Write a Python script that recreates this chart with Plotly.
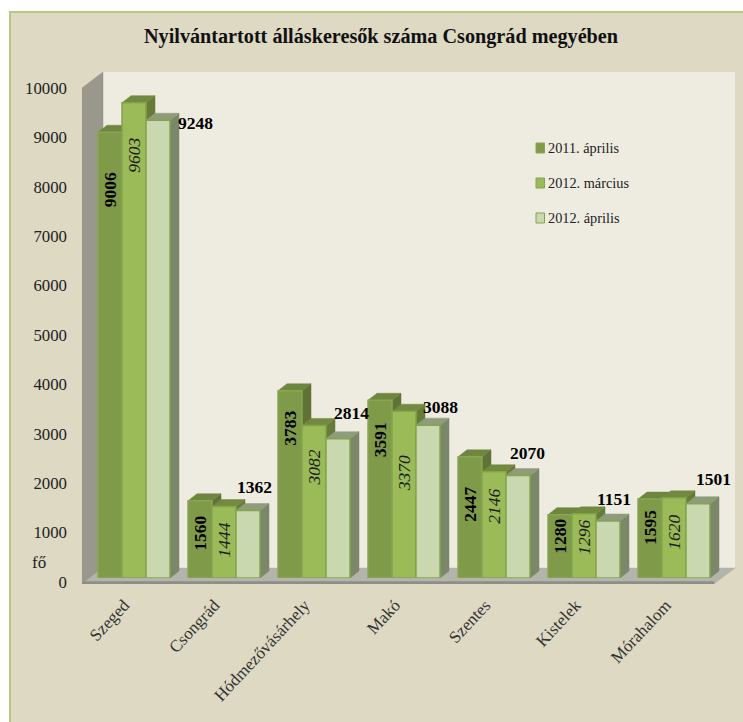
import plotly.graph_objects as go

CATEGORIES = ["Szeged", "Csongrád", "Hódmezővásárhely", "Makó", "Szentes", "Kistelek", "Mórahalom"]
SERIES_NAMES = ["2011. április", "2012. március", "2012. április"]
APR_2011 = [9006, 1560, 3783, 3591, 2447, 1280, 1595]
MAR_2012 = [9603, 1444, 3082, 3370, 2146, 1296, 1620]
APR_2012 = [9248, 1362, 2814, 3088, 2070, 1151, 1501]
Y_TICKS = list(range(0, 10001, 1000))
TITLE = "Nyilvántartott álláskeresők száma Csongrád megyében"

# styles and layout (pixels of the 743x722 page)
W, H = 743, 722
FONT = "Liberation Serif"
FRONT = ["#7F9A48", "#9BBB59", "#C9D8AE"]
EDGE = ["#8AA653", "#84A44C", "#84A44C"]
TOP = ["#6F863F", "#728A3F", "#8F9C7A"]
SIDE = ["#5F7336", "#657B37", "#7B8769"]
LAB1_DOWN = [58, 33, 38, 40, 48, 22, 29]
LAB2_DOWN = [53, 34, 42, 62, 35, 24, 35]
LAB3_DX = [37, 6, 13, 12, 9, 6, 15]
LAB3_UP = [-3, 24, 26, 18, 23, 22, 25]
LEGEND_Y = [148, 183, 218]

series = [APR_2011, MAR_2012, APR_2012]
dom = lambda a, b: [a / W, b / W]
vdom = lambda bottom, top: [(H - bottom) / H, (H - top) / H]

fig = go.Figure()
# main axes carry the tick labels and the room of the chart
fig.add_trace(go.Scatter(x=CATEGORIES, y=[None] * 7, xaxis="x", yaxis="y", showlegend=False, hoverinfo="skip"))
for name, vals, col, edge in zip(SERIES_NAMES, series, FRONT, EDGE):
    fig.add_trace(go.Bar(x=CATEGORIES, y=vals, name=name, xaxis="x2", yaxis="y2", showlegend=False,
                         marker=dict(color=col, line=dict(color=edge, width=1.5))))

UX, UY = 632 / 7, 49.4 / 1000      # px per category / per unit on the wall axes
BX, BY = 90, 49.5 / 1000           # same on the bar axes
shapes = [dict(type="rect", xref="paper", yref="paper", x0=10 / W, x1=1.01, y0=-0.01, y1=(H - 12) / H,
               fillcolor="#DDD9C3", line=dict(color="#B4CB7F", width=2), layer="below")]

x_l, x_r = -0.5, 6.5
y_b = -2 / UY                      # front edge of the floor lies just under the 0 tick
y_t = 10000
ddx, ddy = 21 / UX, 16 / UY
def poly(pts, color, xr="x", yr="y", line=None):
    path = "M " + " L ".join(f"{a},{b}" for a, b in pts) + " Z"
    return dict(type="path", path=path, xref=xr, yref=yr, fillcolor=color,
                line=dict(color=line or color, width=0.5), layer="below")

shapes.append(poly([(x_l + ddx, y_b + ddy), (x_r + ddx, y_b + ddy), (x_r + ddx, y_t + ddy), (x_l + ddx, y_t + ddy)], "#EEECE1"))
shapes.append(poly([(x_l, y_b), (x_l + ddx, y_b + ddy), (x_l + ddx, y_t + ddy), (x_l, y_t)], "#9A978C"))
shapes.append(poly([(x_l, y_b), (x_l + ddx, y_b + ddy), (x_r + ddx, y_b + ddy), (x_r, y_b)], "#B3B4AC"))
shapes.append(poly([(x_l, y_b), (x_r, y_b), (x_r, y_b + 2.5 / UY), (x_l, y_b + 2.5 / UY)], "#8E8E86"))

w = 0.8 / 3
bdx, bdy = 9 / BX, 7 / BY
for j, vals in enumerate(series):
    for i, v in enumerate(vals):
        x0 = i + (j - 1.5) * w
        x1 = x0 + w
        shapes.append(poly([(x1, 0), (x1 + bdx, bdy), (x1 + bdx, v + bdy), (x1, v)], SIDE[j], "x2", "y2"))
        shapes.append(poly([(x0, v), (x0 + bdx, v + bdy), (x1 + bdx, v + bdy), (x1, v)], TOP[j], "x2", "y2"))

ann = [dict(text=f"<b>{TITLE}</b>", xref="paper", yref="paper", x=381 / W, y=(H - 37) / H, showarrow=False,
            xanchor="center", yanchor="middle", font=dict(family=FONT, size=20.2, color="#111111")),
       dict(text="fő", xref="paper", yref="paper", x=39 / W, y=(H - 562) / H, showarrow=False,
            xanchor="center", yanchor="middle", font=dict(family=FONT, size=17, color="#222222"))]
LAB = 17.5
for i in range(7):
    ann.append(dict(text=f"<b>{APR_2011[i]}</b>", xref="x2", yref="y2", x=i - w, y=APR_2011[i], yshift=-LAB1_DOWN[i],
                    textangle=-90, showarrow=False, font=dict(family=FONT, size=LAB, color="#000000")))
    ann.append(dict(text=f"<i>{MAR_2012[i]}</i>", xref="x2", yref="y2", x=i, y=MAR_2012[i], yshift=-LAB2_DOWN[i],
                    textangle=-90, showarrow=False, font=dict(family=FONT, size=LAB, color="#1A1A1A")))
    ann.append(dict(text=f"<b>{APR_2012[i]}</b>", xref="x2", yref="y2", x=i + w, y=APR_2012[i], xshift=LAB3_DX[i],
                    yshift=LAB3_UP[i], showarrow=False, font=dict(family=FONT, size=LAB, color="#000000")))

# legend drawn at the reference's tight spacing
for name, ly, col, edge in zip(SERIES_NAMES, LEGEND_Y, FRONT, EDGE):
    shapes.append(dict(type="rect", xref="paper", yref="paper", x0=536 / W, x1=544.5 / W,
                       y0=(H - ly - 5) / H, y1=(H - ly + 5) / H, fillcolor=col,
                       line=dict(color=edge, width=1), layer="above"))
    ann.append(dict(text=name, xref="paper", yref="paper", x=546 / W, y=(H - ly) / H, xanchor="left",
                    yanchor="middle", showarrow=False, font=dict(family=FONT, size=14.3, color="#222222")))

tick_font = dict(family=FONT, size=16.8, color="#222222")
fig.update_layout(
    width=W, height=H, margin=dict(l=0, r=0, t=0, b=0, autoexpand=False), paper_bgcolor="white",
    plot_bgcolor="rgba(0,0,0,0)", showlegend=False,
    barmode="group", bargap=0.2, bargroupgap=0, shapes=shapes, annotations=ann,
    xaxis=dict(domain=dom(82, 735), anchor="y", type="category", categoryorder="array", categoryarray=CATEGORIES,
               range=[-0.5, -0.5 + 653 / UX], showgrid=False, zeroline=False, showline=False, ticks="",
               tickangle=-47, ticklabelstandoff=7, ticklabelshift=-3,
               tickfont=dict(family=FONT, size=17, color="#333333"), fixedrange=True),
    yaxis=dict(domain=vdom(584, 72), anchor="x", range=[y_b, y_b + 512 / UY], tickvals=Y_TICKS, tickformat="d",
               showgrid=False, zeroline=False, showline=False, ticks="", tickfont=tick_font, ticklabelstandoff=14,
               fixedrange=True),
    xaxis2=dict(domain=dom(89, 735), anchor="y2", type="category", categoryorder="array", categoryarray=CATEGORIES,
                range=[-0.5, -0.5 + 646 / BX], visible=False, fixedrange=True),
    yaxis2=dict(domain=vdom(578, 72), anchor="x2", range=[0, 506 / BY], visible=False, fixedrange=True),
)
fig.write_html("out.html", config=dict(displayModeBar=False), post_script="document.body.style.margin='0';")
